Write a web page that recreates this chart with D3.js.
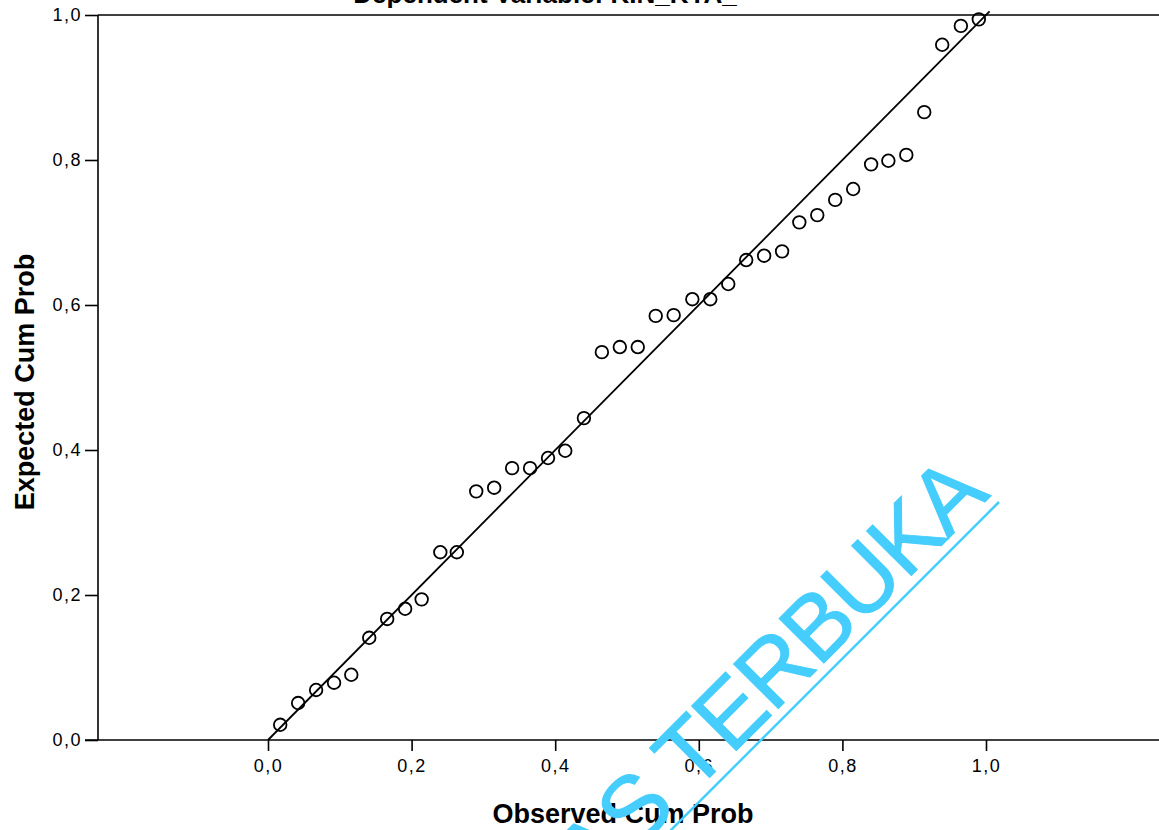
<!DOCTYPE html>
<html>
<head>
<meta charset="utf-8">
<script src="https://cdn.jsdelivr.net/npm/d3@7"></script>
<style>
  body { margin: 0; background: #fff; }
  svg { display: block; }
</style>
</head>
<body>
<svg id="chart" width="1159" height="830"></svg>
<script>
// observed vs expected cumulative probability
var observed = [0.017, 0.042, 0.067, 0.092, 0.116, 0.141, 0.166, 0.191, 0.214, 0.240,
                0.263, 0.290, 0.315, 0.340, 0.365, 0.390, 0.414, 0.440, 0.465, 0.490,
                0.515, 0.540, 0.565, 0.591, 0.616, 0.641, 0.666, 0.691, 0.716, 0.740,
                0.765, 0.790, 0.815, 0.840, 0.864, 0.889, 0.914, 0.939, 0.965, 0.990];
var expected = [0.021, 0.051, 0.069, 0.079, 0.090, 0.141, 0.167, 0.181, 0.194, 0.259,
                0.259, 0.343, 0.348, 0.375, 0.375, 0.389, 0.399, 0.444, 0.535, 0.542,
                0.542, 0.585, 0.586, 0.608, 0.608, 0.629, 0.662, 0.668, 0.674, 0.714,
                0.724, 0.745, 0.760, 0.794, 0.799, 0.807, 0.866, 0.959, 0.985, 0.994];
var ticks = [0, 0.2, 0.4, 0.6, 0.8, 1.0];
var title = 'Dependent Variable: KIN_KYA_';
var xTitle = 'Observed Cum Prob',
    yTitle = 'Expected Cum Prob',
    watermark = 'UNIVERSITAS TERBUKA';

var svg = d3.select('#chart');

var x = d3.scaleLinear().domain([0, 1]).range([268, 986]),
    y = d3.scaleLinear().domain([0, 1]).range([740, 15]);

var fmt = function (d){ return d3.format('.1f')(d).replace('.', ','); };

// frame: left axis line and top border
svg.append('line')
    .attr('x1', 98).attr('x2', 1159)
    .attr('y1', y(1)).attr('y2', y(1))
    .attr('stroke', '#000').attr('stroke-width', 1.6);

var yAxis = svg.append('g')
    .attr('transform', 'translate(98,0)')
    .call(d3.axisLeft(y).tickValues(ticks).tickFormat(fmt).tickSize(13).tickPadding(3));

var xAxis = svg.append('g')
    .attr('transform', 'translate(0,' + y(0) + ')')
    .call(d3.axisBottom(x).tickValues(ticks).tickFormat(fmt).tickSize(11).tickPadding(8));

// stretch the x axis line across the whole frame
xAxis.select('.domain').attr('d', 'M85,0H1159');
yAxis.select('.domain').attr('d', 'M0,' + y(1) + 'V' + y(0));

svg.selectAll('.domain').attr('stroke', '#000').attr('stroke-width', 1.6);
svg.selectAll('.tick line').attr('stroke', '#000').attr('stroke-width', 1.6);
svg.selectAll('.tick text')
    .attr('fill', '#000')
    .style('font-family', 'Liberation Sans, Arial, sans-serif')
    .style('font-size', '18px')
    .style('letter-spacing', '1.5px');

// reference diagonal
svg.append('line')
    .attr('x1', x(0)).attr('y1', y(0))
    .attr('x2', x(1.005)).attr('y2', y(1.005))
    .attr('stroke', '#000').attr('stroke-width', 1.8);

// points
svg.append('g').selectAll('circle')
    .data(d3.zip(observed, expected))
    .enter()
    .append('circle')
    .attr('cx', function (d){ return x(d[0]); })
    .attr('cy', function (d){ return y(d[1]); })
    .attr('r', 6.3)
    .attr('fill', 'none')
    .attr('stroke', '#000')
    .attr('stroke-width', 1.8);

// titles
svg.append('text')
    .attr('x', 545).attr('y', 3)
    .attr('text-anchor', 'middle')
    .style('font-family', 'Liberation Sans, Arial, sans-serif')
    .style('font-weight', 'bold')
    .style('font-size', '26px')
    .text(title);

svg.append('text')
    .attr('x', 623).attr('y', 823)
    .attr('text-anchor', 'middle')
    .style('font-family', 'Liberation Sans, Arial, sans-serif')
    .style('font-weight', 'bold')
    .style('font-size', '27px')
    .text(xTitle);

svg.append('text')
    .attr('transform', 'translate(34,382) rotate(-90)')
    .attr('text-anchor', 'middle')
    .style('font-family', 'Liberation Sans, Arial, sans-serif')
    .style('font-weight', 'bold')
    .style('font-size', '27px')
    .text(yTitle);

/* watermark stamped across the scan */
var wm = svg.append('g').attr('fill', '#45CDFD');
wm.append('text')
    .attr('transform', 'translate(990,497) rotate(-45)')
    .attr('text-anchor', 'end')
    .attr('stroke', '#45CDFD')
    .attr('stroke-width', 1)
    .style('font-family', 'Liberation Sans, Arial, sans-serif')
    .style('font-size', '92px')
    .style('letter-spacing', '-2px')
    .text(watermark);
wm.append('line')
    .attr('x1', 999).attr('y1', 502)
    .attr('x2', 660).attr('y2', 841)
    .attr('stroke', '#45CDFD').attr('stroke-width', 2.5);
</script>
</body>
</html>
